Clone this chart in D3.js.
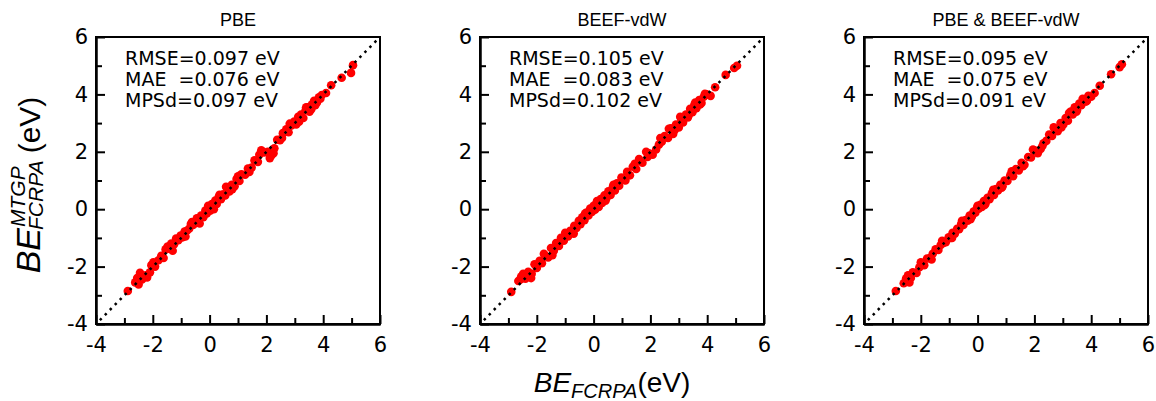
<!DOCTYPE html>
<html><head><meta charset="utf-8">
<script src="https://cdn.jsdelivr.net/npm/d3@7"></script>
<style>
body{margin:0;background:#fff}
svg{display:block}
text{fill:#000}
</style>
</head><body>
<svg id="chart" width="1156" height="401"></svg>
<script>
// Panel titles and the error statistics printed in each panel
const titles = ["PBE", "BEEF-vdW", "PBE & BEEF-vdW"];
const statLines = [
  ["RMSE=0.097 eV", "MAE  =0.076 eV", "MPSd=0.097 eV"],
  ["RMSE=0.105 eV", "MAE  =0.083 eV", "MPSd=0.102 eV"],
  ["RMSE=0.095 eV", "MAE  =0.075 eV", "MPSd=0.091 eV"]
];
const majorTicks = [-4, -2, 0, 2, 4, 6];
const minorTicks = [-3, -1, 1, 3, 5];
const axisRange = [-4, 6];

// Binding energies: FCRPA reference (x) vs. MTGP prediction (y), in eV
const pbeX = [-2.88,-2.62,-2.55,-2.45,-2.38,-2.25,-2.20,-2.05,-1.98,-1.92,-1.80,-1.70,-1.62,-1.48,-1.42,-1.35,-1.25,-1.18,-1.10,-1.02,-0.95,-0.88,-0.80,-0.72,-0.66,-0.58,-0.50,-0.45,-0.38,-0.30,-0.22,-0.15,-0.10,-0.04,0.02,0.08,0.12,0.20,0.25,0.32,0.40,0.48,0.55,0.62,0.70,0.78,0.88,0.95,1.05,1.12,1.25,1.35,1.48,1.58,1.70,1.82,1.92,2.05,2.18,2.28,2.38,2.48,2.58,2.70,2.78,2.88,2.98,3.05,3.12,3.22,3.30,3.38,3.45,3.52,3.60,3.68,3.78,3.85,3.95,4.10,4.28,4.65,4.98,5.05,
  -2.50,-2.10,-1.55,-1.30,-0.85,-0.62,-0.35,-0.05,0.15,0.35,0.58,0.80,1.00,1.40,1.75,2.12,2.25,2.55,2.82,3.15,3.40,3.58,3.72,3.90];
const pbeY = [-2.85,-2.55,-2.40,-2.22,-2.45,-2.30,-2.38,-1.95,-1.85,-2.00,-1.78,-1.62,-1.70,-1.30,-1.38,-1.20,-1.22,-1.02,-1.08,-0.92,-0.98,-0.78,-0.75,-0.68,-0.52,-0.55,-0.48,-0.32,-0.40,-0.22,-0.28,-0.05,-0.15,0.08,-0.05,0.18,0.05,0.30,0.18,0.42,0.35,0.52,0.48,0.75,0.62,0.85,0.80,1.05,0.98,1.22,1.20,1.42,1.45,1.70,1.65,2.05,1.98,2.00,1.88,2.12,2.42,2.40,2.65,2.78,2.68,2.92,3.05,2.95,3.22,3.30,3.18,3.45,3.55,3.40,3.65,3.78,3.72,3.90,3.98,4.05,4.32,4.58,4.75,5.02,
  -2.62,-2.20,-1.40,-1.45,-0.95,-0.45,-0.50,0.12,0.00,0.50,0.78,0.70,1.15,1.30,1.90,1.78,1.95,2.48,2.98,3.05,3.55,3.48,3.62,3.85];

const beefX = [-2.90,-2.65,-2.58,-2.48,-2.40,-2.30,-2.18,-2.08,-2.00,-1.90,-1.82,-1.72,-1.60,-1.50,-1.40,-1.32,-1.22,-1.15,-1.05,-0.98,-0.90,-0.82,-0.75,-0.68,-0.60,-0.52,-0.46,-0.40,-0.32,-0.25,-0.18,-0.12,-0.06,0.00,0.05,0.10,0.18,0.25,0.30,0.38,0.45,0.52,0.60,0.68,0.75,0.82,0.90,0.98,1.08,1.18,1.28,1.38,1.50,1.60,1.72,1.85,1.95,2.08,2.20,2.30,2.40,2.50,2.62,2.72,2.80,2.90,3.00,3.08,3.15,3.25,3.32,3.40,3.48,3.55,3.62,3.72,3.80,3.88,3.98,4.12,4.28,4.65,4.95,5.05,
  -2.55,-2.20,-1.75,-1.45,-1.00,-0.70,-0.30,-0.08,0.12,0.42,0.70,1.12,1.45,1.90,2.35,2.65,2.85,3.05,3.35,3.58,3.75,3.92];
const beefY = [-2.88,-2.50,-2.45,-2.25,-2.42,-2.18,-2.25,-1.92,-2.05,-1.80,-1.88,-1.60,-1.68,-1.35,-1.45,-1.18,-1.28,-1.00,-1.10,-0.88,-0.95,-0.75,-0.82,-0.58,-0.65,-0.40,-0.52,-0.28,-0.38,-0.12,-0.22,0.02,-0.10,0.12,-0.02,0.20,0.08,0.35,0.22,0.48,0.38,0.62,0.50,0.78,0.65,0.90,0.82,1.10,1.02,1.30,1.18,1.48,1.40,1.75,1.62,2.00,1.95,1.90,2.08,2.25,2.35,2.55,2.48,2.82,2.62,2.95,2.85,3.15,3.02,3.30,3.20,3.50,3.38,3.65,3.52,3.80,3.70,3.92,4.00,3.95,4.25,4.68,4.92,5.00,
  -2.35,-2.40,-1.55,-1.60,-0.82,-0.85,-0.15,0.00,0.28,0.30,0.85,1.00,1.58,1.82,2.48,2.80,2.75,3.22,3.28,3.72,3.65,4.02];

const bothX = [-2.88,-2.60,-2.52,-2.45,-2.35,-2.28,-2.15,-2.05,-1.95,-1.88,-1.78,-1.68,-1.58,-1.48,-1.38,-1.30,-1.20,-1.12,-1.02,-0.95,-0.88,-0.80,-0.72,-0.65,-0.58,-0.50,-0.42,-0.35,-0.28,-0.20,-0.14,-0.08,-0.02,0.04,0.10,0.15,0.22,0.28,0.35,0.42,0.50,0.58,0.65,0.72,0.80,0.88,0.95,1.05,1.15,1.25,1.35,1.45,1.55,1.65,1.78,1.88,2.00,2.12,2.22,2.32,2.42,2.52,2.62,2.72,2.82,2.92,3.02,3.10,3.18,3.28,3.35,3.42,3.50,3.58,3.65,3.75,3.82,3.90,4.00,4.12,4.30,4.70,5.00,5.08,
  -2.40,-2.00,-1.62,-1.25,-0.90,-0.55,-0.25,0.00,0.25,0.55,0.85,1.20,1.60,1.95,2.28,2.68,2.95,3.22,3.48,3.70,3.85];
const bothY = [-2.85,-2.58,-2.42,-2.30,-2.40,-2.20,-2.22,-2.02,-1.90,-1.95,-1.72,-1.70,-1.55,-1.40,-1.42,-1.25,-1.18,-1.15,-0.98,-1.00,-0.82,-0.85,-0.68,-0.70,-0.52,-0.55,-0.38,-0.40,-0.22,-0.25,-0.08,-0.12,0.05,0.02,0.15,0.08,0.28,0.20,0.40,0.35,0.55,0.50,0.70,0.65,0.85,0.80,1.00,0.98,1.18,1.15,1.40,1.35,1.62,1.55,1.82,1.80,2.05,1.95,2.10,2.30,2.38,2.60,2.55,2.80,2.72,3.00,2.95,3.18,3.08,3.40,3.30,3.55,3.45,3.68,3.62,3.80,3.75,3.95,3.92,4.05,4.30,4.70,4.95,5.05,
  -2.55,-1.85,-1.75,-1.10,-1.00,-0.40,-0.35,0.12,0.15,0.68,0.75,1.32,1.50,2.08,2.20,2.85,2.85,3.35,3.40,3.85,3.78];

const panelsX = [pbeX, beefX, bothX];
const panelsY = [pbeY, beefY, bothY];

const svg = d3.select("#chart");
const panelLeft = [96, 480, 864];
const panelTop = 37, W = 284, H = 287;

const x = d3.scaleLinear().domain(axisRange).range([0, W]);
const y = d3.scaleLinear().domain(axisRange).range([H, 0]);
const plainInt = d => String(d);   // plain hyphen for negatives

panelLeft.forEach((left, i) => {
  const g = svg.append("g").attr("transform", `translate(${left},${panelTop})`);

  // title
  g.append("text")
    .attr("x", W / 2).attr("y", -11)
    .attr("text-anchor", "middle")
    .style("font-family", "'Liberation Sans', Arial, sans-serif")
    .style("font-size", "18px")
    .text(titles[i]);

  // frame
  g.append("rect").attr("width", W).attr("height", H)
    .attr("fill", "none").attr("stroke", "#000").attr("stroke-width", 2);

  // scatter points
  const pts = panelsX[i].map((v, k) => [v, panelsY[i][k]]);
  g.append("g").selectAll("circle").data(pts).join("circle")
    .attr("cx", d => x(d[0])).attr("cy", d => y(d[1]))
    .attr("r", 4.3).attr("fill", "#ff0000");

  // y = x reference line
  g.append("line")
    .attr("x1", x(axisRange[0])).attr("y1", y(axisRange[0]))
    .attr("x2", x(axisRange[1])).attr("y2", y(axisRange[1]))
    .attr("stroke", "#000").attr("stroke-width", 2.5)
    .attr("stroke-dasharray", "2.5,4.6").attr("stroke-dashoffset", -5.5);

  // axes: major ticks with labels, minor ticks without
  const fontTick = "'DejaVu Sans', Verdana, sans-serif";
  const xAxis = g.append("g").attr("transform", `translate(0,${H})`)
    .call(d3.axisBottom(x).tickValues(majorTicks).tickFormat(plainInt).tickSizeInner(-9).tickSizeOuter(0));
  const xMinor = g.append("g").attr("transform", `translate(0,${H})`)
    .call(d3.axisBottom(x).tickValues(minorTicks).tickSizeInner(-6).tickSizeOuter(0).tickFormat(""));
  const yAxis = g.append("g")
    .call(d3.axisLeft(y).tickValues(majorTicks).tickFormat(plainInt).tickSizeInner(-9).tickSizeOuter(0));
  const yMinor = g.append("g")
    .call(d3.axisLeft(y).tickValues(minorTicks).tickSizeInner(-6).tickSizeOuter(0).tickFormat(""));
  [xAxis, xMinor, yAxis, yMinor].forEach(a => {
    a.select(".domain").attr("stroke-width", 2);
    a.selectAll(".tick line").attr("stroke-width", 2);
    a.selectAll(".tick text")
      .style("font-family", fontTick).style("font-size", "21px");
  });
  // labels sit outside the frame, clear of the inward ticks
  yAxis.selectAll(".tick text").attr("x", -8);
  xAxis.selectAll(".tick text").attr("y", 13);

  // statistics block
  const st = g.append("text")
    .style("font-family", "'DejaVu Sans', Verdana, sans-serif")
    .style("font-size", "19px")
    .attr("xml:space", "preserve")
    .style("white-space", "pre");
  statLines[i].forEach((s, k) => {
    st.append("tspan").attr("x", 29).attr("y", 28 + k * 21).text(s);
  });
});

// shared x-axis label
const xl = svg.append("text")
  .attr("x", 612).attr("y", 392)
  .attr("text-anchor", "middle")
  .style("font-family", "'Liberation Sans', Arial, sans-serif")
  .style("font-size", "28px");
xl.append("tspan").style("font-style", "italic").text("BE");
xl.append("tspan").style("font-style", "italic").style("font-size", "20px").attr("dy", 6).text("FCRPA");
xl.append("tspan").attr("dy", -6).text("(eV)");

// shared y-axis label (rotated)
const yl = svg.append("g").attr("transform", "translate(40,185) rotate(-90)");
const lab = "'Liberation Sans', Arial, sans-serif";
const be = yl.append("text").style("font-family", lab).style("font-size", "34px")
  .style("font-style", "italic").text("BE");
const beW = be.node().getComputedTextLength();
const sup = yl.append("text").style("font-family", lab).style("font-size", "21px")
  .style("font-style", "italic").attr("y", -15).text("MTGP");
const sub = yl.append("text").style("font-family", lab).style("font-size", "21px")
  .style("font-style", "italic").attr("y", 3).text("FCRPA");
const sW = Math.max(sup.node().getComputedTextLength(), sub.node().getComputedTextLength());
const ev = yl.append("text").style("font-family", lab).style("font-size", "30px").text("(eV)");
const evW = ev.node().getComputedTextLength();
const total = beW + 1 + sW + 4 + evW;
const x0 = -total / 2;
be.attr("x", x0);
sup.attr("x", x0 + beW + 1);
sub.attr("x", x0 + beW - 2);
ev.attr("x", x0 + beW + 1 + sW + 4);
</script>
</body></html>
